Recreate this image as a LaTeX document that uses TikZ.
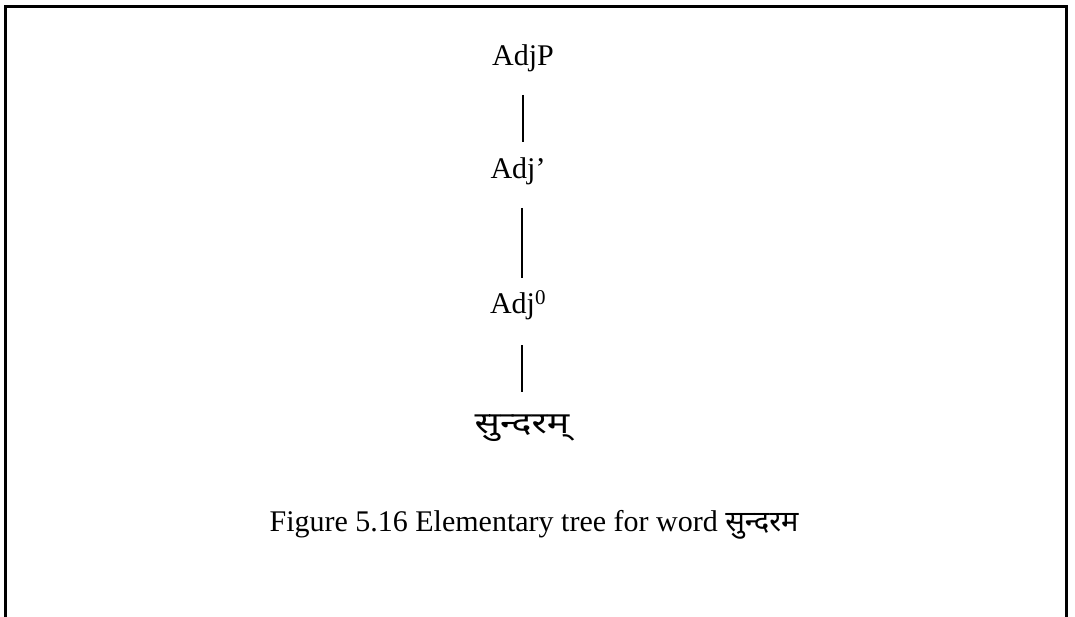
\documentclass[tikz,border=0pt]{standalone}
\usepackage{fontspec}
\setmainfont{Liberation Serif}
\newfontfamily\deva[Script=Devanagari]{Noto Sans}
\tikzset{
  lbl/.style={inner sep=0pt, font=\fontsize{30}{34}\selectfont},
  leaf/.style={inner sep=0pt, font=\deva\fontsize{30}{34}\selectfont},
  edge/.style={line width=1.8pt},
  frame/.style={line width=2.2pt}
}
\begin{document}
\begin{tikzpicture}[x=1pt,y=-1pt]
\useasboundingbox (0,0) rectangle (1075,617);
\draw[frame] (5.5,617) -- (5.5,6.5) -- (1066.5,6.5) -- (1066.5,617);
\node[lbl] (adjp) at (523,58) {AdjP};
\node[lbl] (adjbar) at (518,171) {Adj'};
\node[lbl] (adj0) at (518,305) {Adj\textsuperscript{0}};
\node[leaf] (word) at (522,428) {\scalebox{1.25}[1]{सुन्दरम्}};
\coordinate (t1) at (523,95);  \coordinate (b1) at (523,142);
\coordinate (t2) at (522,208); \coordinate (b2) at (522,278);
\coordinate (t3) at (522,345); \coordinate (b3) at (522,392);
\draw[edge] (adjp.south |- t1) -- (adjp.south |- b1);
\draw[edge] (t2) -- (b2);
\draw[edge] (t3) -- (b3);
\node[lbl] (cap) at (534,525) {Figure 5.16 Elementary tree for word {\deva\fontsize{29}{34}\selectfont सुन्दरम}};
\end{tikzpicture}
\end{document}
